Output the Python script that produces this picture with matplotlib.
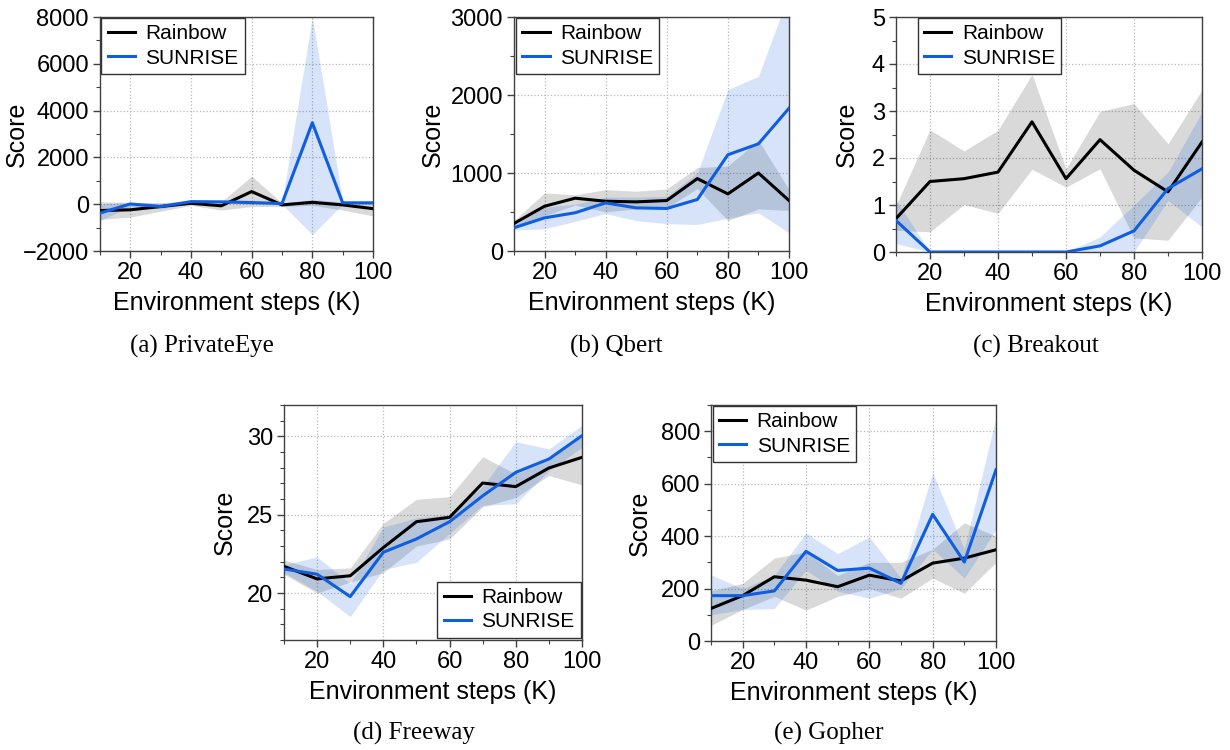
import matplotlib
matplotlib.use("Agg")
import matplotlib.pyplot as plt
from matplotlib.ticker import MultipleLocator, FixedLocator

plt.rcParams['font.family'] = ['Liberation Sans', 'DejaVu Sans']

# ---------------- data ----------------
steps = [10, 20, 30, 40, 50, 60, 70, 80, 90, 100]
xticks = [20, 40, 60, 80, 100]
series_names = ["Rainbow", "SUNRISE"]
captions = ["(a) PrivateEye", "(b) Qbert", "(c) Breakout", "(d) Freeway", "(e) Gopher"]

# PrivateEye
pe_rainbow = [-270, -240, -100, 40, -70, 540, -30, 80, -30, -190]
pe_rainbow_lo = [-650, -550, -300, -50, -250, -100, -100, -50, -250, -500]
pe_rainbow_hi = [100, 80, 50, 120, 100, 1200, 50, 200, 100, 50]
pe_sunrise = [-380, 10, -100, 110, 100, 70, 30, 3480, 60, 60]
pe_sunrise_lo = [-700, -100, -200, 50, 50, 0, 0, -1300, 0, 0]
pe_sunrise_hi = [0, 80, 50, 150, 150, 120, 60, 8000, 100, 100]

# Qbert
qb_rainbow = [353, 574, 677, 638, 630, 647, 928, 732, 1000, 647]
qb_rainbow_lo = [290, 450, 590, 500, 540, 555, 800, 390, 540, 520]
qb_rainbow_hi = [390, 745, 720, 787, 766, 796, 1070, 1090, 1420, 787]
qb_sunrise = [298, 425, 490, 617, 553, 545, 660, 1234, 1374, 1830]
qb_sunrise_lo = [270, 285, 380, 480, 390, 350, 340, 420, 490, 230]
qb_sunrise_hi = [330, 560, 600, 690, 690, 700, 1000, 2070, 2240, 3300]

# Breakout
br_rainbow = [0.71, 1.50, 1.56, 1.70, 2.77, 1.56, 2.39, 1.74, 1.28, 2.34]
br_rainbow_lo = [0.46, 0.43, 1.01, 0.82, 1.76, 1.38, 1.77, 0.30, 0.25, 1.17]
br_rainbow_hi = [0.99, 2.60, 2.15, 2.59, 3.78, 1.77, 2.99, 3.16, 2.30, 3.45]
br_sunrise = [0.67, 0.0, 0.0, 0.0, 0.0, 0.0, 0.13, 0.45, 1.35, 1.77]
br_sunrise_lo = [0.18, 0.0, 0.0, 0.0, 0.0, 0.0, 0.0, 0.0, 1.10, 0.53]
br_sunrise_hi = [1.11, 0.0, 0.0, 0.0, 0.0, 0.0, 0.32, 1.00, 1.70, 2.98]

# Freeway
fw_rainbow = [21.70, 20.90, 21.10, 22.90, 24.55, 24.83, 27.02, 26.79, 27.98, 28.66]
fw_rainbow_lo = [21.2, 20.0, 20.7, 21.3, 23.0, 23.45, 25.5, 26.1, 27.5, 26.9]
fw_rainbow_hi = [22.1, 21.5, 21.6, 24.45, 25.98, 26.15, 28.7, 27.6, 28.5, 30.0]
fw_sunrise = [21.53, 21.20, 19.77, 22.60, 23.45, 24.55, 26.20, 27.70, 28.55, 30.04]
fw_sunrise_lo = [21.3, 20.1, 18.49, 21.5, 21.96, 23.8, 25.6, 25.7, 27.8, 29.3]
fw_sunrise_hi = [21.8, 22.3, 20.6, 24.2, 24.8, 25.0, 26.8, 29.66, 29.2, 30.7]

# Gopher
go_rainbow = [124, 173, 245, 232, 207, 251, 229, 297, 316, 348]
go_rainbow_lo = [60, 120, 170, 118, 170, 200, 163, 240, 182, 300]
go_rainbow_hi = [191, 220, 316, 340, 250, 300, 300, 350, 451, 400]
go_sunrise = [173, 173, 191, 342, 269, 278, 220, 483, 301, 653]
go_sunrise_lo = [100, 120, 124, 270, 190, 163, 200, 350, 240, 425]
go_sunrise_hi = [252, 200, 250, 412, 333, 397, 240, 643, 350, 854]

# ---------------- style ----------------
BLACK = "#000000"
BLUE = "#0f5ee0"
GRAY_FILL = "#000000"
SPINE = "#404040"
TICK_FS = 17
LABEL_FS = 18
LEG_FS = 15
CAP_FS = 18

W, H = 1230, 750
fig = plt.figure(figsize=(W / 100, H / 100), dpi=100)

panels = [
    dict(box=(100, 17, 373, 251), data=(pe_rainbow, pe_rainbow_lo, pe_rainbow_hi, pe_sunrise, pe_sunrise_lo, pe_sunrise_hi),
         ylim=(-2000, 8000), major=2000, minor=1000, leg=dict(loc="upper left", bbox_to_anchor=(0.005, 0.995)),
         ylab=29, cap=(202, 346)),
    dict(box=(514, 17, 789, 251), data=(qb_rainbow, qb_rainbow_lo, qb_rainbow_hi, qb_sunrise, qb_sunrise_lo, qb_sunrise_hi),
         ylim=(0, 3000), major=1000, minor=500, leg=dict(loc="upper left", bbox_to_anchor=(0.008, 0.995)),
         ylab=445, cap=(616, 346)),
    dict(box=(896, 17, 1202, 252), data=(br_rainbow, br_rainbow_lo, br_rainbow_hi, br_sunrise, br_sunrise_lo, br_sunrise_hi),
         ylim=(0, 5), major=1, minor=0.5, leg=dict(loc="upper left", bbox_to_anchor=(0.072, 0.995)),
         ylab=859, cap=(1036, 346)),
    dict(box=(284, 405, 582, 640), data=(fw_rainbow, fw_rainbow_lo, fw_rainbow_hi, fw_sunrise, fw_sunrise_lo, fw_sunrise_hi),
         ylim=(17, 32), major=5, minor=1, leg=dict(loc="lower right", bbox_to_anchor=(0.995, 0.01)),
         ylab=237, cap=(414, 733)),
    dict(box=(711, 405, 996, 641), data=(go_rainbow, go_rainbow_lo, go_rainbow_hi, go_sunrise, go_sunrise_lo, go_sunrise_hi),
         ylim=(0, 900), major=200, minor=100, leg=dict(loc="upper left", bbox_to_anchor=(0.007, 0.995)),
         ylab=652, cap=(829, 733)),
]

for i, p in enumerate(panels):
    l, t, r, b = p["box"]
    ax = fig.add_axes([l / W, 1 - b / H, (r - l) / W, (b - t) / H])
    rb, rb_lo, rb_hi, sr, sr_lo, sr_hi = p["data"]
    ax.fill_between(steps, rb_lo, rb_hi, color=GRAY_FILL, alpha=0.15, linewidth=0, zorder=1)
    ax.fill_between(steps, sr_lo, sr_hi, color=BLUE, alpha=0.17, linewidth=0, zorder=1)
    ax.plot(steps, rb, color=BLACK, lw=2.2, label=series_names[0], zorder=3)
    ax.plot(steps, sr, color=BLUE, lw=2.2, label=series_names[1], zorder=4)

    ax.set_xlim(10, 100)
    ax.set_ylim(*p["ylim"])
    ax.xaxis.set_major_locator(FixedLocator(xticks))
    ax.xaxis.set_minor_locator(MultipleLocator(10))
    ax.yaxis.set_major_locator(MultipleLocator(p["major"]))
    ax.yaxis.set_minor_locator(MultipleLocator(p["minor"]))
    ax.grid(True, which="major", linestyle=":", color="#b8b8b8", linewidth=0.9)
    ax.set_axisbelow(True)
    ax.tick_params(which="major", direction="out", length=5, width=1, color=SPINE,
                   labelsize=TICK_FS, pad=3)
    ax.tick_params(which="minor", direction="out", length=3, width=0.8, color=SPINE)
    for s in ax.spines.values():
        s.set_color(SPINE)
        s.set_linewidth(1.0)

    ax.set_xlabel("Environment steps (K)", fontsize=LABEL_FS)
    ax.set_ylabel("Score", fontsize=LABEL_FS)
    h_px = b - t
    w_px = r - l
    ax.xaxis.set_label_coords(0.5, -40 / h_px)
    ax.xaxis.label.set_va("top")
    ax.yaxis.set_label_coords((p["ylab"] - l) / w_px, 0.5)

    leg = ax.legend(fontsize=LEG_FS, frameon=True, fancybox=False, framealpha=1,
                    edgecolor="#333333", borderpad=0.3, labelspacing=0.25,
                    handlelength=1.3, handletextpad=0.5, borderaxespad=0,
                    **p["leg"])
    leg.get_frame().set_linewidth(1.0)

    cx, cy = p["cap"]
    fig.text(cx / W, 1 - cy / H, captions[i], ha="center", va="center",
             fontsize=CAP_FS, family=["Liberation Serif", "DejaVu Serif"])

fig.savefig("out.png", dpi=100)
